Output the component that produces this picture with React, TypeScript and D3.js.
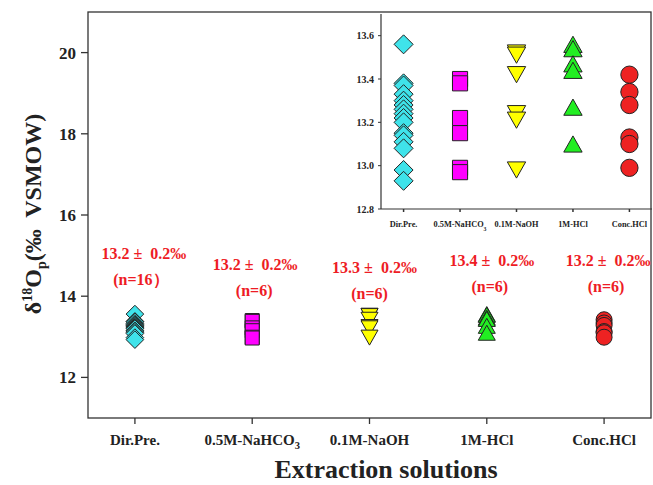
import * as d3 from "d3";
import { useEffect, useRef } from "react";

// extraction methods (x categories)
const categories = ["Dir.Pre.", "0.5M-NaHCO3", "0.1M-NaOH", "1M-HCl", "Conc.HCl"];

// δ18Op values (‰ VSMOW)
const dirPre = [13.56, 13.38, 13.37, 13.33, 13.30, 13.28, 13.26, 13.24, 13.22, 13.20, 13.15, 13.14, 13.11, 13.08, 12.98, 12.93];
const naHCO3 = [13.40, 13.38, 13.22, 13.15, 12.99, 12.97];
const naOH = [13.52, 13.51, 13.42, 13.24, 13.21, 12.98];
const hcl1M = [13.56, 13.54, 13.47, 13.44, 13.27, 13.10];
const concHCl = [13.42, 13.34, 13.28, 13.13, 13.10, 12.99];

const meanLabels = ["13.2 \u00b1\u00a0 0.2\u2030", "13.2 \u00b1\u00a0 0.2\u2030", "13.3 \u00b1\u00a0 0.2\u2030", "13.4 \u00b1\u00a0 0.2\u2030", "13.2 \u00b1\u00a0 0.2\u2030"];
const countLabels = ["(n=16\uff09", "(n=6)", "(n=6)", "(n=6)", "(n=6)"];

const yTicks = [12, 14, 16, 18, 20];
const insetTicks = [12.8, 13.0, 13.2, 13.4, 13.6];

const series = [dirPre, naHCO3, naOH, hcl1M, concHCl];
const shapes = ["diamond", "square", "down", "up", "circle"];
const fills = ["#3fe3ea", "#ff00ff", "#ffff00", "#22ee22", "#ee2222"];

// annotation placement (px offsets from the category tick / baselines)
const labelDx = [9, 3, 5, 5, 4];
const countDx = [6, 2, 0, 3, 2];
const labelBase = [259, 270, 273, 266, 266];

const FONT = "'Liberation Serif', 'Times New Roman', serif";

function shapePath(kind, s) {
  if (kind === "diamond") {
    const h = 8.8 * s;
    return `M0,${-h}L${h},0L0,${h}L${-h},0Z`;
  }
  if (kind === "square") {
    const h = 7 * s;
    return `M${-h},${-h}H${h}V${h}H${-h}Z`;
  }
  if (kind === "up") {
    const w = 8.5 * s, h = 7.5 * s;
    return `M0,${-h}L${w},${h}L${-w},${h}Z`;
  }
  if (kind === "down") {
    const w = 8.5 * s, h = 7.5 * s;
    return `M0,${h}L${w},${-h}L${-w},${-h}Z`;
  }
  const r = 8 * s;
  return `M${r},0A${r},${r} 0 1,1 ${-r},0A${r},${r} 0 1,1 ${r},0Z`;
}

function drawMarkers(g, x, y, s) {
  series.forEach((vals, i) => {
    g.append("g")
      .selectAll("path")
      .data(vals)
      .enter()
      .append("path")
      .attr("transform", (d) => "translate(" + x(i + 1) + "," + y(d) + ")")
      .attr("d", shapePath(shapes[i], s))
      .style("fill", fills[i])
      .style("stroke", "#222")
      .style("stroke-width", 1);
  });
}

function categoryLabel(sel, label) {
  const m = label.match(/^(.*CO)(\d)$/);
  if (m) {
    sel.append("tspan").text(m[1]);
    sel.append("tspan").attr("dy", 4).attr("font-size", "0.7em").text(m[2]);
  } else {
    sel.text(label);
  }
}

const App = () => {
  const ref = useRef(null);

  useEffect(() => {
    const svg = d3.select(ref.current);
    svg.selectAll("*").remove();

    const left = 88, right = 651, top = 12, bottom = 418;

    const x = d3.scaleLinear().domain([0.6, 5.4]).range([left, right]);
    const y = d3.scaleLinear().domain([11, 21]).range([bottom, top]);

    // frame
    svg.append("rect")
      .attr("x", left).attr("y", top)
      .attr("width", right - left).attr("height", bottom - top)
      .style("fill", "none").style("stroke", "#333").style("stroke-width", 1.3);

    // y ticks
    const yg = svg.append("g");
    yTicks.forEach((t) => {
      yg.append("line").attr("x1", left - 7).attr("x2", left).attr("y1", y(t)).attr("y2", y(t))
        .style("stroke", "#333").style("stroke-width", 1.3);
      yg.append("text").attr("x", left - 12).attr("y", y(t)).attr("dy", "0.35em")
        .attr("text-anchor", "end").attr("font-family", FONT).attr("font-weight", "bold")
        .attr("font-size", 17).attr("fill", "#222").text(t);
    });

    // x ticks
    const xg = svg.append("g");
    categories.forEach((c, i) => {
      xg.append("line").attr("x1", x(i + 1)).attr("x2", x(i + 1)).attr("y1", bottom).attr("y2", bottom + 6)
        .style("stroke", "#333").style("stroke-width", 1.3);
      const t = xg.append("text").attr("x", x(i + 1)).attr("y", 445)
        .attr("text-anchor", "middle").attr("font-family", FONT).attr("font-weight", "bold")
        .attr("font-size", 15).attr("fill", "#222");
      categoryLabel(t, c);
    });

    // axis titles
    svg.append("text").attr("x", 386).attr("y", 478).attr("text-anchor", "middle")
      .attr("font-family", FONT).attr("font-weight", "bold").attr("font-size", 26).attr("fill", "#222")
      .text("Extraction solutions");

    const yt = svg.append("text").attr("transform", "translate(41,214) rotate(-90)")
      .attr("text-anchor", "middle").attr("font-family", FONT).attr("font-weight", "bold")
      .attr("font-size", 24).attr("fill", "#222");
    yt.append("tspan").text("\u03b4");
    yt.append("tspan").attr("dy", -9).attr("font-size", 14).text("18");
    yt.append("tspan").attr("dy", 9).text("O");
    yt.append("tspan").attr("dy", 5).attr("font-size", 14).text("p");
    yt.append("tspan").attr("dy", -5).text("(\u2030\u00a0 VSMOW)");

    // main markers
    drawMarkers(svg.append("g"), x, y, 1);

    // stats annotations
    const ag = svg.append("g").attr("font-family", FONT).attr("font-weight", "bold")
      .attr("font-size", 16).attr("fill", "#ee1c25").attr("text-anchor", "middle");
    meanLabels.forEach((m, i) => {
      ag.append("text").attr("x", x(i + 1) + labelDx[i]).attr("y", labelBase[i]).text(m);
      ag.append("text").attr("x", x(i + 1) + countDx[i]).attr("y", labelBase[i] + 26).text(countLabels[i]);
    });

    // inset
    const xi = d3.scaleLinear().domain([0.6, 5.4]).range([381, 652]);
    const yi = d3.scaleLinear().domain([12.8, 13.7]).range([209, 14]);
    const ig = svg.append("g");
    ig.append("line").attr("x1", xi.range()[0]).attr("x2", xi.range()[0]).attr("y1", yi.range()[0]).attr("y2", yi.range()[1])
      .style("stroke", "#333").style("stroke-width", 1.2);
    ig.append("line").attr("x1", xi.range()[0]).attr("x2", xi.range()[1]).attr("y1", yi.range()[0]).attr("y2", yi.range()[0])
      .style("stroke", "#333").style("stroke-width", 1.2);
    insetTicks.forEach((t) => {
      ig.append("line").attr("x1", xi.range()[0] - 3).attr("x2", xi.range()[0]).attr("y1", yi(t)).attr("y2", yi(t))
        .style("stroke", "#333");
      ig.append("text").attr("x", xi.range()[0] - 7).attr("y", yi(t)).attr("dy", "0.35em")
        .attr("text-anchor", "end").attr("font-family", FONT).attr("font-weight", "bold")
        .attr("font-size", 10).attr("fill", "#222").text(t.toFixed(1));
    });
    categories.forEach((c, i) => {
      ig.append("line").attr("x1", xi(i + 1)).attr("x2", xi(i + 1)).attr("y1", yi.range()[0]).attr("y2", yi.range()[0] + 3)
        .style("stroke", "#333").style("stroke-width", 1.5);
      const t = ig.append("text").attr("x", xi(i + 1)).attr("y", 227)
        .attr("text-anchor", "middle").attr("font-family", FONT).attr("font-weight", "bold")
        .attr("font-size", 8.3).attr("fill", "#222");
      categoryLabel(t, c);
    });
    drawMarkers(ig.append("g"), xi, yi, 1.08);
  }, []);

  return (
    <svg ref={ref} width={653} height={485}
      style={{ position: "absolute", left: 0, top: 0, background: "#fff" }} />
  );
};

export default App;
